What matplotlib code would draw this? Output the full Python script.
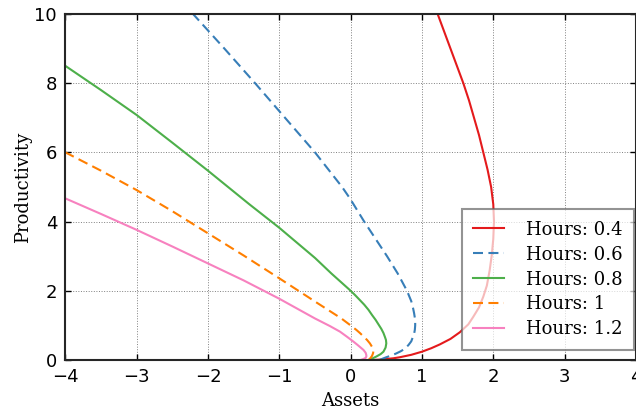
import matplotlib
matplotlib.use("Agg")
import matplotlib.pyplot as plt

# curves: (assets, productivity) pairs, bottom -> top
red_x = [0.29, 0.40, 0.50, 0.60, 0.69, 0.85, 1.00, 1.13, 1.25, 1.40, 1.53, 1.65, 1.72, 1.80, 1.86, 1.91, 1.95, 1.98, 2.00, 2.01,
         2.00, 1.97, 1.92, 1.86, 1.80, 1.73, 1.66, 1.58, 1.49, 1.40, 1.31, 1.22]
red_y = [0.00, 0.01, 0.03, 0.05, 0.08, 0.15, 0.24, 0.34, 0.45, 0.61, 0.80, 1.03, 1.25, 1.52, 1.83, 2.15, 2.60, 3.05, 3.50, 4.00,
         4.50, 5.00, 5.50, 6.00, 6.50, 7.00, 7.50, 8.00, 8.50, 9.00, 9.50, 10.0]

blue_x = [0.41, 0.45, 0.50, 0.57, 0.64, 0.70, 0.74, 0.78, 0.81, 0.85, 0.87, 0.89, 0.90, 0.905, 0.905, 0.90, 0.89, 0.875, 0.85,
          0.82, 0.79, 0.66, 0.51, 0.35, 0.19, -0.01, -0.12, -0.50, -0.92, -1.34, -1.77, -2.21]
blue_y = [0.00, 0.04, 0.08, 0.13, 0.19, 0.25, 0.30, 0.37, 0.43, 0.54, 0.65, 0.76, 0.87, 1.00, 1.10, 1.22, 1.35, 1.50, 1.70,
          1.85, 2.00, 2.50, 3.00, 3.50, 4.00, 4.67, 5.00, 6.00, 7.00, 8.00, 9.00, 10.0]

green_x = [0.27, 0.31, 0.36, 0.42, 0.46, 0.49, 0.50, 0.495, 0.48, 0.46, 0.43, 0.39, 0.35, 0.30, 0.25, 0.19, 0.13, 0.06, -0.01,
           -0.27, -0.50, -1.00, -1.42, -2.00, -2.50, -3.00, -3.50, -4.00]
green_y = [0.00, 0.05, 0.10, 0.17, 0.24, 0.36, 0.48, 0.58, 0.67, 0.78, 0.90, 1.03, 1.16, 1.30, 1.45, 1.60, 1.73, 1.88, 2.02,
           2.50, 2.95, 3.82, 4.50, 5.47, 6.28, 7.08, 7.80, 8.50]

orange_x = [0.25, 0.28, 0.30, 0.315, 0.32, 0.30, 0.27, 0.23, 0.18, 0.13, 0.08, -0.02, -0.13, -0.50, -1.00, -1.50, -2.00,
            -2.50, -3.00, -3.50, -4.00]
orange_y = [0.00, 0.06, 0.12, 0.20, 0.29, 0.38, 0.48, 0.58, 0.68, 0.78, 0.87, 1.03, 1.20, 1.69, 2.36, 3.02, 3.66,
            4.30, 4.91, 5.47, 6.00]

pink_x = [0.14, 0.18, 0.21, 0.22, 0.22, 0.21, 0.18, 0.14, 0.10, 0.04, -0.05, -0.15, -0.29, -0.50, -1.00, -1.50, -2.00,
          -2.50, -3.00, -3.50, -4.00]
pink_y = [0.00, 0.03, 0.06, 0.10, 0.14, 0.21, 0.29, 0.36, 0.43, 0.53, 0.67, 0.82, 0.98, 1.20, 1.77, 2.30, 2.79,
          3.28, 3.76, 4.22, 4.67]

hours = ["0.4", "0.6", "0.8", "1", "1.2"]
colors = ["#e41a1c", "#377eb8", "#4daf4a", "#ff7f00", "#f781bf"]
styles = ["-", "--", "-", "--", "-"]
xs = [red_x, blue_x, green_x, orange_x, pink_x]
ys = [red_y, blue_y, green_y, orange_y, pink_y]

plt.rcParams["font.size"] = 13

fig = plt.figure(figsize=(6.36, 4.13), dpi=100)
ax = fig.add_axes([65.4 / 636, 53 / 413, 570.5 / 636, 346 / 413])

for x, y, c, ls, h in zip(xs, ys, colors, styles, hours):
    line, = ax.plot(x, y, color=c, lw=1.5, label="Hours: " + h)
    if ls == "--":
        line.set_dashes([4.8, 2.6])

ax.set_xlim(-4, 4)
ax.set_ylim(0, 10)
ax.set_xticks(range(-4, 5))
ax.set_yticks(range(0, 11, 2))
ax.grid(True, color="0.5", linestyle=":", lw=0.7)
ax.tick_params(direction="in", top=True, right=True, length=4.5, width=1, labelsize=13, pad=6)
for s in ax.spines.values():
    s.set_linewidth(1.5)
    s.set_color("0.15")

ax.set_xlabel("Assets", family="DejaVu Serif", fontsize=13, labelpad=4)
ax.set_ylabel("Productivity", family="DejaVu Serif", fontsize=13, labelpad=2)

leg = ax.legend(loc="lower right", bbox_to_anchor=(0.997, 0.029), borderaxespad=0,
                prop={"family": "DejaVu Serif", "size": 13}, fancybox=False,
                framealpha=0.7, edgecolor="0.4", handlelength=1.7, handletextpad=1.2,
                labelspacing=0.38, borderpad=0.65)
leg.get_frame().set_linewidth(1.5)

fig.savefig("out.png", dpi=100)
